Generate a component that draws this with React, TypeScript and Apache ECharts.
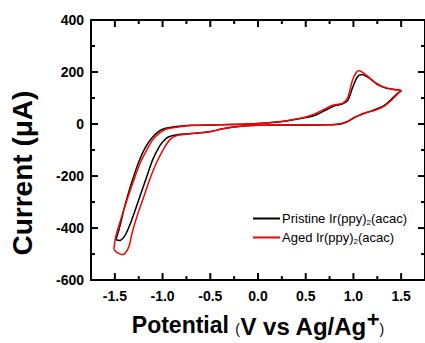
import React, { useEffect, useRef } from "react";
import * as echarts from "echarts";

const seriesNames = ["Pristine Ir(ppy)2(acac)", "Aged Ir(ppy)2(acac)"];
const xMajorTicks = [-1.5, -1.0, -0.5, 0.0, 0.5, 1.0, 1.5];
const xMinorTicks = [-1.25, -0.75, -0.25, 0.25, 0.75, 1.25];
const yMajorTicks = [-400, -200, 0, 200];
const yMinorTicks = [-500, -300, -100, 100, 300];

const pristine: number[][] = [
  [-1.49, -445], [-1.46, -410], [-1.44, -382], [-1.39, -307], [-1.32, -221],
  [-1.25, -146], [-1.18, -90], [-1.11, -53], [-1.04, -28], [-0.97, -16],
  [-0.85, -9], [-0.7, -5], [-0.4, -3], [-0.1, 0], [0.1, 4], [0.2, 8],
  [0.3, 12], [0.4, 18], [0.5, 25], [0.6, 34], [0.7, 52], [0.8, 70],
  [0.88, 77], [0.94, 90], [0.99, 139], [1.04, 180], [1.085, 190],
  [1.15, 180], [1.25, 154], [1.34, 138], [1.42, 133], [1.5, 128],
  [1.47, 120], [1.4, 96], [1.32, 71], [1.22, 55], [1.11, 40], [1.01, 25],
  [0.94, 9], [0.87, 0], [0.73, -3], [0.3, -4], [0.0, -5], [-0.23, -10],
  [-0.37, -18], [-0.51, -30], [-0.72, -37], [-0.85, -41], [-0.94, -50],
  [-0.99, -65], [-1.03, -84], [-1.1, -134], [-1.16, -196], [-1.23, -270],
  [-1.3, -345], [-1.35, -394], [-1.4, -432], [-1.45, -448], [-1.49, -445],
];

const aged: number[][] = [
  [-1.51, -479], [-1.49, -432], [-1.44, -370], [-1.37, -289], [-1.3, -214],
  [-1.23, -146], [-1.16, -96], [-1.1, -59], [-1.03, -34], [-0.96, -19],
  [-0.85, -12], [-0.7, -6], [-0.4, -3], [-0.1, 0], [0.1, 4], [0.2, 8],
  [0.3, 13], [0.4, 19], [0.5, 27], [0.6, 40], [0.7, 58], [0.78, 72],
  [0.84, 76], [0.89, 80], [0.94, 102], [0.99, 168], [1.03, 199], [1.06, 205],
  [1.11, 195], [1.18, 174], [1.25, 152], [1.35, 139], [1.42, 134], [1.5, 128],
  [1.47, 118], [1.4, 92], [1.32, 68], [1.22, 52], [1.11, 42], [1.01, 25],
  [0.94, 11], [0.87, 2], [0.73, -3], [0.3, -4], [0.0, -5], [-0.23, -10],
  [-0.37, -18], [-0.51, -30], [-0.75, -39], [-0.85, -44], [-0.92, -59],
  [-0.99, -96], [-1.06, -146], [-1.13, -208], [-1.2, -283], [-1.27, -357],
  [-1.32, -419], [-1.35, -469], [-1.39, -496], [-1.42, -502], [-1.46, -497],
  [-1.5, -487], [-1.51, -479],
];

const FONT = "Arial, 'Liberation Sans', sans-serif";
const X_MIN = -1.75;
const X_MAX = 1.75;
const Y_MIN = -600;
const Y_MAX = 400;

export default function App() {
  const ref = useRef<HTMLDivElement>(null);
  useEffect(() => {
    if (!ref.current) return;
    const chart = echarts.init(ref.current, null, { renderer: "svg" });
    const line = () => ({ show: true, onZero: false, lineStyle: { color: "#000", width: 2 } });
    const tickStyle = { stroke: "#000", lineWidth: 2, fill: "none" };
    const xTickData = xMajorTicks.map((v) => [v, 0, 7]).concat(xMinorTicks.map((v) => [v, 0, 4]));
    const yTickData = yMajorTicks.map((v) => [0, v, 7]).concat(yMinorTicks.map((v) => [0, v, 4]));
    chart.setOption({
      animation: false,
      backgroundColor: "#fff",
      grid: { left: 90, top: 20, right: -3, bottom: 54.5 },
      legend: {
        orient: "vertical",
        left: 253,
        top: 211,
        padding: 0,
        icon: "rect",
        itemWidth: 27,
        itemHeight: 2,
        itemGap: 4,
        data: seriesNames,
        formatter: (name: string) => name.replace(")2(", "){sub|2}("),
        textStyle: {
          fontFamily: FONT, fontSize: 13, lineHeight: 15, color: "#000", padding: [0, 0, 0, -3],
          rich: { sub: { fontFamily: FONT, fontSize: 8, color: "#000", padding: [7, 0, 0, 0] } },
        },
      },
      xAxis: [
        {
          type: "value", position: "bottom", min: X_MIN, max: X_MAX, interval: 0.25,
          splitLine: { show: false }, axisLine: line(), axisTick: { show: false },
          axisLabel: {
            show: true, customValues: xMajorTicks, formatter: (v: number) => v.toFixed(1),
            fontFamily: FONT, fontWeight: "bold", fontSize: 14, color: "#000", margin: 9,
          },
          name: "{a|Potential }{p|(}{b|V vs Ag/Ag}{s|+}{p|)}",
          nameLocation: "middle",
          nameGap: 27,
          nameTextStyle: {
            rich: {
              a: { fontFamily: FONT, fontWeight: "bold", fontSize: 23, color: "#000" },
              b: { fontFamily: FONT, fontWeight: "bold", fontSize: 24, color: "#000", padding: [2, 0, 0, 0] },
              p: { fontFamily: FONT, fontSize: 14, color: "#000", padding: [8, 0, 0, 0] },
              s: { fontFamily: FONT, fontWeight: "bold", fontSize: 22, color: "#000", padding: [0, 0, 12, 0] },
            },
          },
        },
        {
          type: "value", position: "top", min: X_MIN, max: X_MAX, interval: 0.25,
          splitLine: { show: false }, axisLine: line(), axisTick: { show: false }, axisLabel: { show: false },
        },
      ],
      yAxis: [
        {
          type: "value", position: "left", min: Y_MIN, max: Y_MAX, interval: 200,
          splitLine: { show: false }, axisLine: line(), axisTick: { show: false },
          axisLabel: { show: true, fontFamily: FONT, fontWeight: "bold", fontSize: 14, color: "#000", margin: 7 },
          name: "Current (μA)",
          nameLocation: "middle",
          nameRotate: 90,
          nameGap: 55,
          nameTextStyle: { fontFamily: FONT, fontWeight: "bold", fontSize: 28, color: "#000", padding: [0, 46, 0, 0] },
        },
        {
          type: "value", position: "right", min: Y_MIN, max: Y_MAX, interval: 200,
          splitLine: { show: false }, axisLine: line(), axisTick: { show: false }, axisLabel: { show: false },
        },
      ],
      series: [
        {
          name: "xTicks",
          type: "custom",
          xAxisIndex: 0,
          yAxisIndex: 0,
          silent: true,
          clip: false,
          z: 10,
          encode: { x: 0, y: 1 },
          data: xTickData,
          renderItem: (_params: any, api: any) => {
            const v = api.value(0);
            const len = api.value(2);
            const b = api.coord([v, Y_MIN]);
            const t = api.coord([v, Y_MAX]);
            return {
              type: "group",
              children: [
                { type: "rect", shape: { x: b[0] - 1, y: b[1] - len, width: 2, height: len }, style: { fill: "#000" } },
                { type: "rect", shape: { x: t[0] - 1, y: t[1], width: 2, height: len }, style: { fill: "#000" } },
              ],
            };
          },
        },
        {
          name: "yTicks",
          type: "custom",
          xAxisIndex: 0,
          yAxisIndex: 0,
          silent: true,
          clip: false,
          z: 10,
          encode: { x: 0, y: 1 },
          data: yTickData,
          renderItem: (_params: any, api: any) => {
            const v = api.value(1);
            const len = api.value(2);
            const l = api.coord([X_MIN, v]);
            const r = api.coord([X_MAX, v]);
            return {
              type: "group",
              children: [
                { type: "rect", shape: { x: l[0], y: l[1] - 1, width: len, height: 2 }, style: { fill: "#000" } },
                { type: "rect", shape: { x: r[0] - len, y: r[1] - 1, width: len, height: 2 }, style: { fill: "#000" } },
              ],
            };
          },
        },
        {
          name: seriesNames[0], type: "line", xAxisIndex: 0, yAxisIndex: 0, data: pristine,
          symbol: "none", smooth: 0.3, lineStyle: { color: "#000", width: 1.5 }, itemStyle: { color: "#000" }, z: 3,
        },
        {
          name: seriesNames[1], type: "line", xAxisIndex: 0, yAxisIndex: 0, data: aged,
          symbol: "none", smooth: 0.3, lineStyle: { color: "#ff0000", width: 1.5 }, itemStyle: { color: "#ff0000" }, z: 4,
        },
      ],
    });
    void tickStyle;
    return () => chart.dispose();
  }, []);
  return <div ref={ref} style={{ position: "fixed", left: 0, top: 0, width: 425, height: 343 }} />;
}
